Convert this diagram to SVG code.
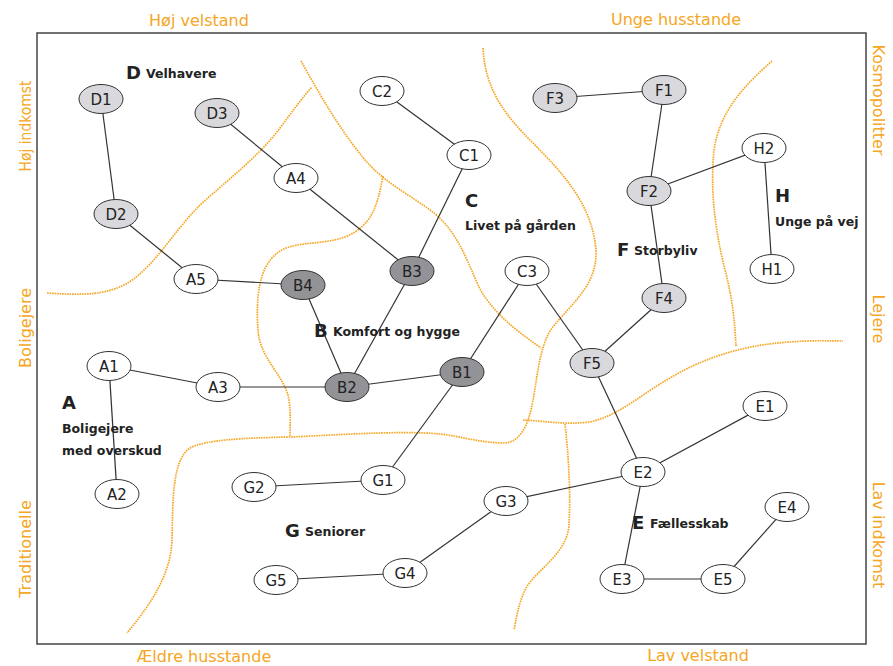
<svg xmlns="http://www.w3.org/2000/svg" width="893" height="666" viewBox="0 0 893 666">
<style>
.bg{fill:#fff}
.frame{fill:none;stroke:#444;stroke-width:1.5}
.zone{fill:none;stroke:#f5a623;stroke-width:1.7;stroke-dasharray:1.6 0.9;stroke-linecap:butt}
.axis{font-family:"DejaVu Sans",Verdana,sans-serif;font-size:16px;fill:#f5a623}
.edge{stroke:#333;stroke-width:1.2;fill:none}
.n ellipse{stroke:#333;stroke-width:1}
.w ellipse{fill:#fff}
.l ellipse{fill:#d9d9dd}
.d ellipse{fill:#939397}
.n text{font-family:"DejaVu Sans",Verdana,sans-serif;font-size:15px;fill:#222;text-anchor:middle}
.big{font-family:"DejaVu Sans",Verdana,sans-serif;font-size:18px;font-weight:bold;fill:#222}
.sub{font-family:"DejaVu Sans",Verdana,sans-serif;font-size:12.5px;font-weight:bold;fill:#222}
</style>
<rect class="bg" x="0" y="0" width="893" height="666"/>
<rect class="frame" x="37" y="33" width="829" height="611"/>

<g id="zones">
<path class="zone" d="M47,293 C80,295 110,297 135,278 C160,258 175,230 200,205 C230,178 260,155 280,128 C292,112 302,98 312,87"/>
<path class="zone" d="M301,61 C320,95 340,130 365,160 C385,183 410,195 430,210 C455,228 465,255 478,285 C490,310 515,330 541,348"/>
<path class="zone" d="M383,176 C378,200 375,225 345,237 C320,246 290,240 275,255 C258,270 256,300 258,330 C260,360 285,375 289,400 C291,415 290,425 290,436"/>
<path class="zone" d="M483,48 C485,85 500,110 530,140 C565,175 592,205 596,250 C598,285 570,305 552,328 C538,348 537,385 531,410 C526,430 518,442 505,443 C480,443 460,436 440,434 C400,430 320,436 290,437 C240,438 205,440 190,448 C172,460 173,500 172,540 C171,575 150,605 127,633"/>
<path class="zone" d="M523,420 C545,421 565,425 590,422 C620,415 640,395 670,378 C700,360 740,345 790,342 C815,340 830,341 843,341"/>
<path class="zone" d="M565,424 C568,450 571,490 569,525 C567,555 535,570 525,590 C518,605 516,620 514,630"/>
<path class="zone" d="M772,61 C745,85 720,110 714,150 C710,190 715,230 725,270 C733,300 735,325 736,347"/>
</g>

<g id="axis-labels">
<text class="axis" x="199" y="26" text-anchor="middle">Høj velstand</text>
<text class="axis" x="676" y="25" text-anchor="middle">Unge husstande</text>
<text class="axis" x="204" y="662" text-anchor="middle">Ældre husstande</text>
<text class="axis" x="698" y="661" text-anchor="middle">Lav velstand</text>
<text class="axis" x="31" y="126" text-anchor="middle" textLength="91" lengthAdjust="spacingAndGlyphs" transform="rotate(-90 31 126)">Høj indkomst</text>
<text class="axis" x="31" y="328" text-anchor="middle" transform="rotate(-90 31 328)">Boligejere</text>
<text class="axis" x="31" y="549" text-anchor="middle" transform="rotate(-90 31 549)">Traditionelle</text>
<text class="axis" x="873" y="100" text-anchor="middle" transform="rotate(90 873 100)">Kosmopolitter</text>
<text class="axis" x="873" y="319" text-anchor="middle" transform="rotate(90 873 319)">Lejere</text>
<text class="axis" x="873" y="535" text-anchor="middle" transform="rotate(90 873 535)">Lav indkomst</text>
</g>

<g id="connectors">
<line class="edge" x1="101" y1="99" x2="116" y2="214"/>
<line class="edge" x1="116" y1="214" x2="196" y2="279"/>
<line class="edge" x1="196" y1="279" x2="303" y2="285"/>
<line class="edge" x1="217" y1="113" x2="296" y2="178"/>
<line class="edge" x1="296" y1="178" x2="412" y2="271"/>
<line class="edge" x1="382" y1="91" x2="469" y2="155"/>
<line class="edge" x1="469" y1="155" x2="412" y2="271"/>
<line class="edge" x1="412" y1="271" x2="347" y2="387"/>
<line class="edge" x1="303" y1="285" x2="347" y2="387"/>
<line class="edge" x1="109" y1="366" x2="218" y2="387"/>
<line class="edge" x1="218" y1="387" x2="347" y2="387"/>
<line class="edge" x1="109" y1="366" x2="117" y2="494"/>
<line class="edge" x1="347" y1="387" x2="462" y2="372"/>
<line class="edge" x1="462" y1="372" x2="527" y2="271"/>
<line class="edge" x1="462" y1="372" x2="383" y2="480"/>
<line class="edge" x1="383" y1="480" x2="254" y2="487"/>
<line class="edge" x1="527" y1="271" x2="592" y2="363"/>
<line class="edge" x1="592" y1="363" x2="664" y2="298"/>
<line class="edge" x1="664" y1="298" x2="649" y2="191"/>
<line class="edge" x1="649" y1="191" x2="664" y2="90"/>
<line class="edge" x1="664" y1="90" x2="555" y2="98"/>
<line class="edge" x1="649" y1="191" x2="764" y2="148"/>
<line class="edge" x1="764" y1="148" x2="772" y2="269"/>
<line class="edge" x1="592" y1="363" x2="643" y2="472"/>
<line class="edge" x1="643" y1="472" x2="765" y2="406"/>
<line class="edge" x1="643" y1="472" x2="506" y2="501"/>
<line class="edge" x1="506" y1="501" x2="405" y2="573"/>
<line class="edge" x1="405" y1="573" x2="276" y2="580"/>
<line class="edge" x1="643" y1="472" x2="622" y2="579"/>
<line class="edge" x1="622" y1="579" x2="723" y2="579"/>
<line class="edge" x1="723" y1="579" x2="787" y2="507"/>
</g>

<g id="D1" class="n l"><ellipse cx="101" cy="99" rx="22" ry="14.5"/><text x="101" y="104.5">D1</text></g>
<g id="D2" class="n l"><ellipse cx="116" cy="214" rx="22" ry="14.5"/><text x="116" y="219.5">D2</text></g>
<g id="D3" class="n l"><ellipse cx="217" cy="113" rx="22" ry="14.5"/><text x="217" y="118.5">D3</text></g>
<g id="A1" class="n w"><ellipse cx="109" cy="366" rx="22" ry="14.5"/><text x="109" y="371.5">A1</text></g>
<g id="A2" class="n w"><ellipse cx="117" cy="494" rx="22" ry="14.5"/><text x="117" y="499.5">A2</text></g>
<g id="A3" class="n w"><ellipse cx="218" cy="387" rx="22" ry="14.5"/><text x="218" y="392.5">A3</text></g>
<g id="A4" class="n w"><ellipse cx="296" cy="178" rx="22" ry="14.5"/><text x="296" y="183.5">A4</text></g>
<g id="A5" class="n w"><ellipse cx="196" cy="279" rx="22" ry="14.5"/><text x="196" y="284.5">A5</text></g>
<g id="B1" class="n d"><ellipse cx="462" cy="372" rx="22" ry="14.5"/><text x="462" y="377.5">B1</text></g>
<g id="B2" class="n d"><ellipse cx="347" cy="387" rx="22" ry="14.5"/><text x="347" y="392.5">B2</text></g>
<g id="B3" class="n d"><ellipse cx="412" cy="271" rx="22" ry="14.5"/><text x="412" y="276.5">B3</text></g>
<g id="B4" class="n d"><ellipse cx="303" cy="285" rx="22" ry="14.5"/><text x="303" y="290.5">B4</text></g>
<g id="C1" class="n w"><ellipse cx="469" cy="155" rx="22" ry="14.5"/><text x="469" y="160.5">C1</text></g>
<g id="C2" class="n w"><ellipse cx="382" cy="91" rx="22" ry="14.5"/><text x="382" y="96.5">C2</text></g>
<g id="C3" class="n w"><ellipse cx="527" cy="271" rx="22" ry="14.5"/><text x="527" y="276.5">C3</text></g>
<g id="F1" class="n l"><ellipse cx="664" cy="90" rx="22" ry="14.5"/><text x="664" y="95.5">F1</text></g>
<g id="F2" class="n l"><ellipse cx="649" cy="191" rx="22" ry="14.5"/><text x="649" y="196.5">F2</text></g>
<g id="F3" class="n l"><ellipse cx="555" cy="98" rx="22" ry="14.5"/><text x="555" y="103.5">F3</text></g>
<g id="F4" class="n l"><ellipse cx="664" cy="298" rx="22" ry="14.5"/><text x="664" y="303.5">F4</text></g>
<g id="F5" class="n l"><ellipse cx="592" cy="363" rx="22" ry="14.5"/><text x="592" y="368.5">F5</text></g>
<g id="H1" class="n w"><ellipse cx="772" cy="269" rx="22" ry="14.5"/><text x="772" y="274.5">H1</text></g>
<g id="H2" class="n w"><ellipse cx="764" cy="148" rx="22" ry="14.5"/><text x="764" y="153.5">H2</text></g>
<g id="G1" class="n w"><ellipse cx="383" cy="480" rx="22" ry="14.5"/><text x="383" y="485.5">G1</text></g>
<g id="G2" class="n w"><ellipse cx="254" cy="487" rx="22" ry="14.5"/><text x="254" y="492.5">G2</text></g>
<g id="G3" class="n w"><ellipse cx="506" cy="501" rx="22" ry="14.5"/><text x="506" y="506.5">G3</text></g>
<g id="G4" class="n w"><ellipse cx="405" cy="573" rx="22" ry="14.5"/><text x="405" y="578.5">G4</text></g>
<g id="G5" class="n w"><ellipse cx="276" cy="580" rx="22" ry="14.5"/><text x="276" y="585.5">G5</text></g>
<g id="E1" class="n w"><ellipse cx="765" cy="406" rx="22" ry="14.5"/><text x="765" y="411.5">E1</text></g>
<g id="E2" class="n w"><ellipse cx="643" cy="472" rx="22" ry="14.5"/><text x="643" y="477.5">E2</text></g>
<g id="E3" class="n w"><ellipse cx="622" cy="579" rx="22" ry="14.5"/><text x="622" y="584.5">E3</text></g>
<g id="E4" class="n w"><ellipse cx="787" cy="507" rx="22" ry="14.5"/><text x="787" y="512.5">E4</text></g>
<g id="E5" class="n w"><ellipse cx="723" cy="579" rx="22" ry="14.5"/><text x="723" y="584.5">E5</text></g>

<g id="label-D"><text class="big" x="126" y="79">D</text><text class="sub" x="146" y="78">Velhavere</text></g>
<g id="label-C"><text class="big" x="465" y="207">C</text><text class="sub" x="465" y="230">Livet på gården</text></g>
<g id="label-B"><text class="big" x="314" y="337">B</text><text class="sub" x="333" y="336">Komfort og hygge</text></g>
<g id="label-F"><text class="big" x="617" y="256">F</text><text class="sub" x="634" y="255">Storbyliv</text></g>
<g id="label-H"><text class="big" x="775" y="202">H</text><text class="sub" x="775" y="226">Unge på vej</text></g>
<g id="label-A"><text class="big" x="62" y="409">A</text><text class="sub" x="62" y="433">Boligejere</text><text class="sub" x="62" y="455">med overskud</text></g>
<g id="label-G"><text class="big" x="285" y="537">G</text><text class="sub" x="305" y="536">Seniorer</text></g>
<g id="label-E"><text class="big" x="632" y="529">E</text><text class="sub" x="650" y="528">Fællesskab</text></g>
</svg>
